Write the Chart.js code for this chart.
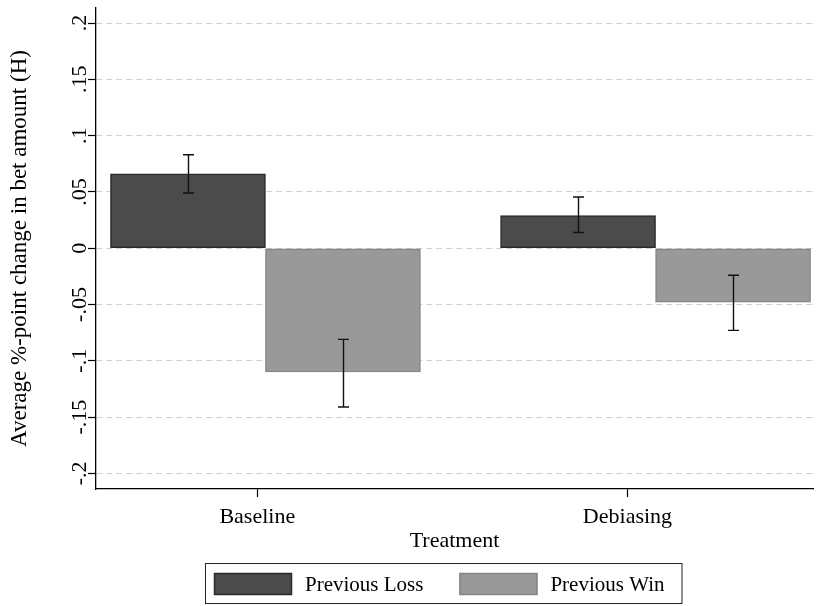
<!DOCTYPE html>
<html>
<head>
<meta charset="utf-8">
<script src="https://cdn.jsdelivr.net/npm/chart.js@4.4.0/dist/chart.umd.min.js"></script>
<style>
    html, body { margin: 0; padding: 0; background: #fff; }
</style>
</head>
<body>
<canvas id="chart" width="816" height="606"></canvas>
<script>
// ===== ДАННЫЕ =====
const categories = ['Baseline', 'Debiasing'];
const seriesNames = ['Previous Loss', 'Previous Win'];
const lossMean = [0.066, 0.029];
const winMean = [-0.110, -0.048];
const lossLow = [0.049, 0.014];
const lossHigh = [0.083, 0.0455];
const winLow = [-0.141, -0.073];
const winHigh = [-0.081, -0.024];
const yTicks = [-0.2, -0.15, -0.1, -0.05, 0, 0.05, 0.1, 0.15, 0.2];
const yTickLabels = ['-.2', '-.15', '-.1', '-.05', '0', '.05', '.1', '.15', '.2'];

const FONT = "'Liberation Serif', 'Times New Roman', serif";
const lowAll = [lossLow, winLow];
const highAll = [lossHigh, winHigh];

// Stata ставит подписи категорий чуть левее центра группы
const labelShift = [-0.021, -0.072];

// ===== ОШИБКИ (усы) =====
const errorBars = {
    id: 'errorBars',
    afterDatasetsDraw(chart) {
        const ctx = chart.ctx;
        const y = chart.scales.y;
        ctx.save();
        ctx.strokeStyle = '#111';
        ctx.lineWidth = 1.4;
        chart.data.datasets.forEach((ds, d) => {
            const meta = chart.getDatasetMeta(d);
            meta.data.forEach((bar, i) => {
                const yl = y.getPixelForValue(lowAll[d][i]);
                const yh = y.getPixelForValue(highAll[d][i]);
                const x = Math.round(bar.x) + 0.5;
                ctx.beginPath();
                ctx.moveTo(x, yl); ctx.lineTo(x, yh);
                ctx.moveTo(x - 5.5, yl); ctx.lineTo(x + 5.5, yl);
                ctx.moveTo(x - 5.5, yh); ctx.lineTo(x + 5.5, yh);
                ctx.stroke();
            });
        });
        ctx.restore();
    }
};

// ===== ЛЕГЕНДА В РАМКЕ =====
const boxedLegend = {
    id: 'boxedLegend',
    afterDraw(chart) {
        const ctx = chart.ctx;
        ctx.save();
        ctx.font = '21px ' + FONT;
        ctx.textBaseline = 'middle';
        ctx.textAlign = 'left';
        let x = 214;
        const top = 573, h = 22;
        chart.data.datasets.forEach(ds => {
            ctx.fillStyle = ds.backgroundColor;
            ctx.fillRect(x, top, 78, h);
            ctx.strokeStyle = ds.borderColor;
            ctx.lineWidth = 1.5;
            ctx.strokeRect(x + 0.5, top + 0.5, 77, h - 1);
            x += 78 + 13;
            ctx.fillStyle = '#000';
            ctx.fillText(ds.label, x, top + h / 2 + 1);
            x += ctx.measureText(ds.label).width + 36;
        });
        const right = x - 36 + 17;
        ctx.strokeStyle = '#222';
        ctx.lineWidth = 1;
        ctx.strokeRect(205.5, 563.5, right - 205, 40);
        ctx.restore();
    }
};

new Chart(document.getElementById('chart'), {
    type: 'bar',
    data: {
        datasets: [
            {
                label: seriesNames[0],
                data: lossMean.map((v, i) => ({ x: i, y: v })),
                backgroundColor: '#4b4b4b',
                borderColor: '#2a2a2a',
                borderWidth: 1.5,
                borderSkipped: false
            },
            {
                label: seriesNames[1],
                data: winMean.map((v, i) => ({ x: i, y: v })),
                backgroundColor: '#999999',
                borderColor: '#858585',
                borderWidth: 1.5,
                borderSkipped: false
            }
        ]
    },
    options: {
        responsive: false,
        animation: false,
        devicePixelRatio: 1,
        barThickness: 155,
        layout: { padding: { top: 8, right: 3, left: 0, bottom: 0 } },
        plugins: {
            legend: { display: false },
            tooltip: { enabled: false }
        },
        scales: {
            x: {
                type: 'linear',
                offset: false,
                min: -0.4344,
                max: 1.4036,
                afterBuildTicks: s => { s.ticks = categories.map((c, i) => ({ value: i + labelShift[i] })); },
                afterFit: s => { s.height = 117; s.paddingLeft = 0; s.paddingRight = 0; },
                ticks: {
                    color: '#000',
                    font: { family: FONT, size: 22 },
                    padding: 7,
                    maxRotation: 0,
                    autoSkip: false,
                    callback: (v, i) => categories[i]
                },
                grid: { offset: false, drawOnChartArea: false, tickLength: 8, tickColor: '#000', tickWidth: 1.2 },
                border: { color: '#000', width: 1.3 },
                title: {
                    display: true,
                    text: 'Treatment',
                    color: '#000',
                    font: { family: FONT, size: 22 },
                    padding: { top: 0, bottom: 52 }
                }
            },
            y: {
                min: -0.2139,
                max: 0.2134,
                afterBuildTicks: s => { s.ticks = yTicks.map(v => ({ value: v })); },
                afterFit: s => { s.width = 96; s.paddingTop = 0; s.paddingBottom = 0; },
                ticks: {
                    color: '#000',
                    font: { family: FONT, size: 22 },
                    minRotation: 90,
                    maxRotation: 90,
                    crossAlign: 'center',
                    padding: -10,
                    autoSkip: false,
                    callback: (v, i) => yTickLabels[i]
                },
                grid: { color: '#cfcfcf', lineWidth: 1, tickLength: 8, tickColor: '#000', tickWidth: 1.2 },
                border: { color: '#000', width: 1.3, dash: [6, 4] },
                title: {
                    display: true,
                    text: 'Average %-point change in bet amount (H)',
                    color: '#000',
                    font: { family: FONT, size: 23 },
                    padding: { top: 6, bottom: 0 }
                }
            }
        }
    },
    plugins: [errorBars, boxedLegend]
});
</script>
</body>
</html>
